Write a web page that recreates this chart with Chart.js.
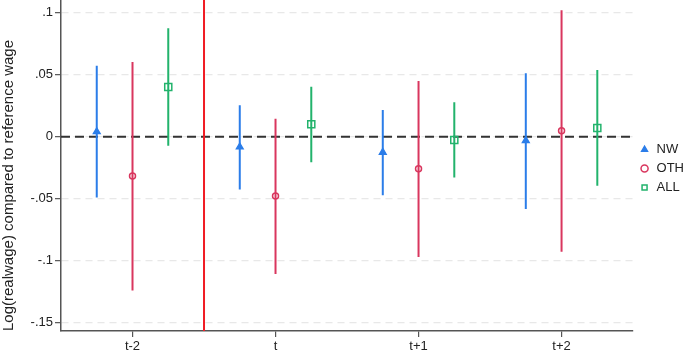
<!DOCTYPE html>
<html>
<head>
<meta charset="utf-8">
<script src="https://cdn.jsdelivr.net/npm/chart.js@4.4.1/dist/chart.umd.min.js"></script>
<style>
  html, body { margin: 0; padding: 0; background: #fff; }
  #wrap { width: 685px; height: 354px; }
</style>
</head>
<body>
<div id="wrap"><canvas id="chart" width="685" height="354"></canvas></div>
<script>
const categories = ['t-2', 't', 't+1', 't+2'];
const yTicks = [-0.15, -0.1, -0.05, 0, 0.05, 0.1];

// point estimates and 95% bounds
const nwCoef = [0.004, -0.0083, -0.0126, -0.0032];
const nwLo = [-0.049, -0.0427, -0.0473, -0.0583];
const nwHi = [0.0572, 0.0253, 0.0215, 0.0511];

const othCoef = [-0.0317, -0.0478, -0.0258, 0.0048];
const othLo = [-0.124, -0.1107, -0.097, -0.0927];
const othHi = [0.0602, 0.0145, 0.0449, 0.102];

const allCoef = [0.040, 0.010, -0.0027, 0.007];
const allLo = [-0.0073, -0.0206, -0.033, -0.0395];
const allHi = [0.0874, 0.0403, 0.0277, 0.0538];

// the very wide interval between t-2 and t, runs off both ends of the axis
const wideLineX = [1.5];
const wideLineLo = [-0.3];
const wideLineHi = [0.3];

const blue = '#2b7de9';
const red = '#d9365e';
const green = '#22b36c';

Chart.defaults.font.family = "'Liberation Sans', Arial, sans-serif";
Chart.defaults.font.size = 13;
Chart.defaults.color = '#222';

function markers(coef, off) {
  return coef.map((v, i) => ({ x: i + 1 + off, y: v }));
}
function whiskers(lo, hi, off) {
  const out = [];
  lo.forEach((l, i) => {
    const x = i + 1 + off;
    out.push({ x, y: l }, { x, y: hi[i] }, { x, y: null });
  });
  return out;
}
function fmt(v) {
  if (v === 0) return '0';
  return String(v).replace('0.', '.');
}

const lineDefaults = { showLine: true, pointRadius: 0, borderWidth: 2, spanGaps: false };

new Chart(document.getElementById('chart'), {
  type: 'scatter',
  data: {
    datasets: [
      { label: 'NW', data: markers(nwCoef, -0.25), pointStyle: 'triangle', pointRadius: 4,
        borderColor: blue, backgroundColor: blue, pointBorderWidth: 1.3 },
      { label: 'OTH', data: markers(othCoef, 0), pointStyle: 'circle', pointRadius: 3,
        borderColor: red, backgroundColor: 'rgba(0,0,0,0)', pointBorderWidth: 1.5 },
      { label: 'ALL', data: markers(allCoef, 0.25), pointStyle: 'rect', pointRadius: 5,
        borderColor: green, backgroundColor: 'rgba(0,0,0,0)', pointBorderWidth: 1.5 },
      { label: 'nw ci', data: whiskers(nwLo, nwHi, -0.25), borderColor: blue, ...lineDefaults },
      { label: 'oth ci', data: whiskers(othLo, othHi, 0), borderColor: red, ...lineDefaults },
      { label: 'all ci', data: whiskers(allLo, allHi, 0.25), borderColor: green, ...lineDefaults },
      { label: 'wide', data: wideLineX.flatMap((x, i) => [{ x, y: wideLineLo[i] }, { x, y: wideLineHi[i] }]),
        borderColor: '#f01c24', ...lineDefaults },
      { label: 'zero', data: [{ x: 0.5, y: 0 }, { x: 4.5, y: 0 }], borderColor: '#333',
        borderDash: [9, 5], ...lineDefaults }
    ]
  },
  options: {
    responsive: false,
    devicePixelRatio: 1,
    animation: false,
    layout: { autoPadding: false, padding: { left: 0, top: 0, right: -9, bottom: 0 } },
    plugins: {
      tooltip: { enabled: false },
      legend: {
        position: 'right',
        fullSize: false,
        // blank title only nudges the entries down a few pixels
        title: { display: true, text: ' ', font: { size: 5 }, padding: 0 },
        labels: {
          usePointStyle: true,
          boxWidth: 11,
          boxHeight: 5,
          padding: 6,
          color: '#222',
          font: { size: 13 },
          filter: (item) => item.datasetIndex < 3
        }
      }
    },
    scales: {
      x: {
        type: 'linear',
        min: 0.5,
        max: 4.5,
        afterBuildTicks: (s) => { s.ticks = categories.map((c, i) => ({ value: i + 1 })); },
        afterFit: (s) => { s.height = 23; s.paddingLeft = 0; s.paddingRight = 0; },
        ticks: { callback: (v) => categories[v - 1] ?? '', padding: 2, maxRotation: 0, autoSkip: false, color: '#222' },
        grid: { drawOnChartArea: false, tickLength: 6, color: '#555', lineWidth: 1.2 },
        border: { color: '#555', width: 1.5 }
      },
      y: {
        min: -0.1567,
        max: 0.1102,
        afterBuildTicks: (s) => { s.ticks = yTicks.map((v) => ({ value: v })); },
        afterFit: (s) => { s.width = 61; s.paddingTop = 0; s.paddingBottom = 0; },
        ticks: { callback: (v) => fmt(v), padding: 2, color: '#222' },
        grid: { color: '#e8e8e8', lineWidth: 1.3, tickLength: 6, tickColor: '#555', tickWidth: 1.2 },
        border: { display: true, color: '#555', width: 1.5, dash: [7, 5] },
        title: { display: true, text: 'Log(realwage) compared to reference wage', align: 'start',
          color: '#222', font: { size: 15 }, padding: { top: 0, bottom: 0 } }
      }
    }
  }
});
</script>
</body>
</html>
